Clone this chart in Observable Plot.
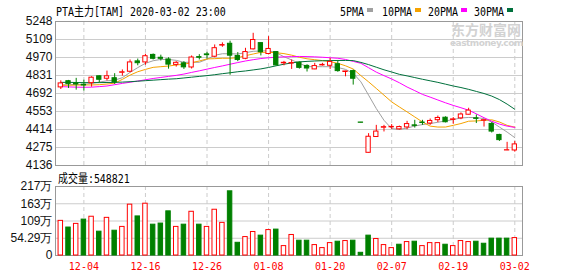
<!DOCTYPE html>
<html><head><meta charset="utf-8">
<script src="https://cdn.jsdelivr.net/npm/d3@7"></script>
<script src="https://cdn.jsdelivr.net/npm/@observablehq/plot@0.6"></script>
<style>
html,body{margin:0;padding:0;background:#fff;}
#chart{position:relative;width:578px;height:276px;overflow:hidden;}
.abs{position:absolute;white-space:nowrap;}
.mono{display:inline-block;transform:scaleX(0.83);transform-origin:0 0;font-family:"DejaVu Sans Mono","Noto Sans CJK SC",monospace;font-size:12px;line-height:14px;color:#000;}
svg{position:absolute;left:0;overflow:visible;}
</style></head><body><div id="chart"></div>
<script>
// ---------- data ----------
const title = "PTA主力[TAM] 2020-03-02 23:00";
const volumeLabel = "成交量";
const lastVolume = 548821;
const dates = ["11-29","12-02","12-03","12-04","12-05","12-06","12-09","12-10","12-11","12-12",
"12-13","12-16","12-17","12-18","12-19","12-20","12-23","12-24","12-25","12-26",
"12-27","12-30","12-31","01-02","01-03","01-06","01-07","01-08","01-09","01-10",
"01-13","01-14","01-15","01-16","01-17","01-20","01-21","01-22","01-23","02-03",
"02-04","02-05","02-06","02-07","02-10","02-11","02-12","02-13","02-14","02-17",
"02-18","02-19","02-20","02-21","02-24","02-25","02-26","02-27","02-28","03-02"];
const open  = [4739,4787,4770,4760,4772,4825,4806,4810,4852,4860, 4940,4932,4990,4968,4955,4913,4925,4893,4973,4994, 4976,5062,5076,4982,4960,5033,5081,4997,5012,4925, 4924,4930,4905,4878,4909,4906,4918,4858,4865,4468, 4234,4356,4428,4431,4415,4430,4446,4468,4460,4486, 4505,4488,4500,4528,4500,4482,4457,4372,4252,4252];
const high  = [4790,4793,4809,4795,4821,4828,4865,4845,4874,4951, 4958,4995,4997,4988,4968,4938,4938,4982,4992,5010, 5067,5083,5096,5008,5041,5157,5084,5131,5016,4940, 4951,4936,4914,4925,4925,4963,4947,4864,4873,4469, 4382,4446,4446,4452,4440,4477,4485,4485,4495,4518, 4512,4506,4542,4578,4526,4486,4467,4377,4315,4322];
const low   = [4723,4731,4718,4710,4741,4773,4789,4762,4826,4852, 4906,4910,4951,4943,4880,4896,4878,4881,4951,4958, 4968,5049,4833,4938,4953,5028,4982,4990,4904,4906, 4878,4880,4858,4876,4904,4877,4856,4821,4757,4465, 4232,4354,4395,4415,4410,4412,4425,4446,4446,4467, 4465,4454,4490,4526,4460,4433,4387,4322,4251,4239];
const close = [4770,4766,4762,4754,4814,4798,4825,4778,4856,4932, 4926,4980,4960,4960,4915,4929,4894,4970,4968,4988, 5042,5066,4984,4951,5012,5105,5011,5036,4909,4929, 4927,4890,4885,4904,4913,4936,4865,4862,4806,4466, 4358,4398,4432,4434,4433,4456,4442,4464,4480,4503, 4470,4492,4530,4560,4496,4486,4398,4332,4254,4299];
const ma5  = [4758,4760,4762,4762,4770,4780,4790,4795,4814,4855, 4892,4925,4945,4955,4955,4948,4933,4933,4933,4956, 4987,4999,4999,4997,5007,5018,5020,5023,5007,4976, 4951,4925,4900,4899,4899,4899,4893,4878,4848,4782, 4679,4576,4485,4421,4415,4425,4441,4452,4460,4470, 4480,4491,4503,4507,4506,4498,4472,4433,4394,4351];
const ma10 = [4755,4756,4757,4758,4758,4760,4765,4772,4801,4834, 4860,4878,4894,4899,4904,4912,4918,4930,4943,4959, 4961,4964,4964,4969,4984,4997,5010,5010,5007,5000, 4988,4972,4960,4953,4946,4938,4925,4906,4881,4830, 4782,4731,4679,4627,4588,4550,4511,4472,4440,4433, 4433,4446,4460,4478,4480,4485,4489,4472,4446,4432];
const ma20 = [4745,4743,4741,4740,4741,4745,4750,4760,4770,4779, 4788,4798,4808,4816,4824,4832,4842,4855,4867,4880, 4893,4905,4918,4931,4943,4953,4962,4968,4972,4975, 4977,4978,4977,4975,4972,4968,4964,4955,4940,4925, 4891,4857,4830,4804,4775,4742,4714,4685,4664,4642, 4620,4600,4582,4563,4535,4505,4478,4456,4440,4430];
const ma30 = [4778,4778,4777,4776,4776,4776,4777,4778,4780,4783, 4787,4791,4795,4799,4803,4806,4812,4818,4824,4830, 4837,4845,4852,4860,4866,4874,4882,4893,4906,4918, 4928,4936,4940,4943,4945,4946,4947,4947,4946,4932, 4915,4895,4875,4858,4840,4828,4815,4802,4790,4778, 4764,4750,4738,4724,4708,4692,4672,4645,4610,4570];
// volume in 万 (10k lots)
const volume = [109,88,99.5,113,122,75,118.5,78,90,160, 123,163,97,100.5,139,90,97,137.6,97,90, 144,102.7,202,40,58,74,62.5,80,81.5,29.6, 64.6,46.6,46.6,32.8,23.3,39,43.4,45.5,46.6,8.5, 62.5,52,32.8,23.3,33.9,42.3,43.4,29.6,39,39, 33.9,29.6,45.5,42.3,43.4,37,53,53,53,54.88];
// 1 = rising (red hollow), 0 = falling (green)
const volumeUp = [1,0,1,0,1,0,1,0,1,1, 0,1,0,0,0,1,0,1,0,1, 1,1,0,0,1,1,0,1,0,1, 1,0,0,1,1,1,0,1,0,0, 0,1,1,1,0,1,0,1,1,1, 0,1,1,1,0,0,0,0,0,1];
const xTickLabels = ["12-04","12-16","12-26","01-08","01-20","02-07","02-19","03-02"];
const priceTicks = [4136,4275,4414,4553,4692,4831,4970,5109,5248];
const volTicks = [0,54.29,108.58,162.87,217.16];
const volTickLabels = ["0","54.29万","109万","163万","217万"];
const maNames = ["5PMA","10PMA","20PMA","30PMA"];

// ---------- styles ----------
const RED = "#ff0000", GREEN = "#008000";
const maColors = ["#a0a0a0","#f5a200","#ff00ff","#00703c"];
const xDomain = [-0.689, 60.0];

const rows = dates.map((d, i) => ({i, d, o: open[i], h: high[i], l: low[i], c: close[i],
  m5: ma5[i], m10: ma10[i], m20: ma20[i], m30: ma30[i], v: volume[i], vu: volumeUp[i]}));
const tickIdx = xTickLabels.map(t => dates.indexOf(t));
const volLabelMap = new Map(volTicks.map((t, k) => [t, volTickLabels[k]]));
const maKeys = ["m5","m10","m20","m30"];

const chart = document.getElementById("chart");
const axisFont = "Liberation Sans, Arial, sans-serif";

const price = Plot.plot({
  width: 578, height: 166, marginTop: 21, marginBottom: 1, marginLeft: 55, marginRight: 56,
  style: {background: "transparent", fontFamily: axisFont, fontSize: "12px", color: "#000", overflow: "visible"},
  x: {domain: xDomain, axis: null},
  y: {domain: [4136, 5248], label: null},
  color: {type: "identity"},
  marks: [
    Plot.gridY(priceTicks, {stroke: "#cccccc", strokeOpacity: 1}),
    Plot.gridX(tickIdx, {stroke: "#cccccc", strokeOpacity: 1, strokeDasharray: "4,3"}),
    Plot.frame({stroke: "#999999"}),
    Plot.axisY(priceTicks, {tickSize: 0, tickPadding: 3, tickFormat: d => String(d), fill: "#111", fontSize: 12, label: null}),
    ...maKeys.map((k, j) => Plot.line(rows, {x: "i", y: k, stroke: maColors[j], strokeWidth: 1})),
    Plot.ruleX(rows, {x: "i", y1: "l", y2: "h", stroke: d => d.c >= d.o ? RED : GREEN, strokeWidth: 1}),
    Plot.rect(rows, {x1: d => d.i - 0.28, x2: d => d.i + 0.28, y1: "o", y2: "c",
      fill: d => d.c >= d.o ? "#ffffff" : GREEN, stroke: d => d.c >= d.o ? RED : GREEN, strokeWidth: 1})
  ]
});
price.style.top = "0px";
chart.appendChild(price);

const vol = Plot.plot({
  width: 578, height: 106, marginTop: 16, marginBottom: 21, marginLeft: 55, marginRight: 56,
  style: {background: "transparent", fontFamily: axisFont, fontSize: "12px", color: "#000", overflow: "visible"},
  x: {domain: xDomain, label: null},
  y: {domain: [0, 217.16], label: null},
  color: {type: "identity"},
  marks: [
    Plot.gridY(volTicks, {stroke: "#cccccc", strokeOpacity: 1}),
    Plot.gridX(tickIdx, {stroke: "#cccccc", strokeOpacity: 1, strokeDasharray: "4,3"}),
    Plot.frame({stroke: "#999999"}),
    Plot.axisY(volTicks, {tickSize: 0, tickPadding: 3, tickFormat: d => volLabelMap.get(d), fill: "#111", fontSize: 12, label: null}),
    Plot.axisX(tickIdx, {tickSize: 0, tickPadding: 7, tickFormat: i => dates[i], fill: RED,
      fontFamily: "DejaVu Sans Mono, monospace", fontSize: 10, label: null}),
    Plot.rect(rows, {x1: d => d.i - 0.29, x2: d => d.i + 0.29, y1: 0, y2: "v",
      fill: d => d.vu ? "#ffffff" : GREEN, stroke: d => d.vu ? RED : GREEN, strokeWidth: 1})
  ]
});
vol.style.top = "170px";
chart.appendChild(vol);

// ---------- text overlays ----------
function addText(txt, left, top, extraStyle) {
  const div = document.createElement("div");
  div.className = "abs";
  div.style.left = left + "px"; div.style.top = top + "px";
  const sp = document.createElement("span");
  sp.className = "mono"; sp.textContent = txt;
  if (extraStyle) Object.assign(sp.style, extraStyle);
  div.appendChild(sp); chart.appendChild(div);
  return div;
}
addText(title, 56, 2);
addText(volumeLabel + ":" + lastVolume, 58, 169);

const legendX = [340, 382, 428, 474];
maNames.forEach((n, j) => {
  addText(n, legendX[j], 2);
  const sq = document.createElement("div");
  sq.className = "abs";
  Object.assign(sq.style, {left: (legendX[j] + n.length * 6 + 3) + "px", top: "8px", width: "6px", height: "4px", background: maColors[j]});
  chart.appendChild(sq);
});

// watermark
const wm1 = document.createElement("div");
wm1.className = "abs"; wm1.textContent = "东方财富网";
Object.assign(wm1.style, {left: "451px", top: "22px", fontFamily: "Noto Sans CJK SC", fontWeight: "bold", fontSize: "14px", lineHeight: "15px", color: "#d2d2d2"});
chart.appendChild(wm1);
const wm2 = document.createElement("div");
wm2.className = "abs"; wm2.textContent = "eastmoney.com";
Object.assign(wm2.style, {left: "450px", top: "39px", fontFamily: "DejaVu Sans", fontWeight: "bold", fontSize: "9px", lineHeight: "9px", color: "#d2d2d2", letterSpacing: "-0.5px"});
chart.appendChild(wm2);
</script></body></html>
